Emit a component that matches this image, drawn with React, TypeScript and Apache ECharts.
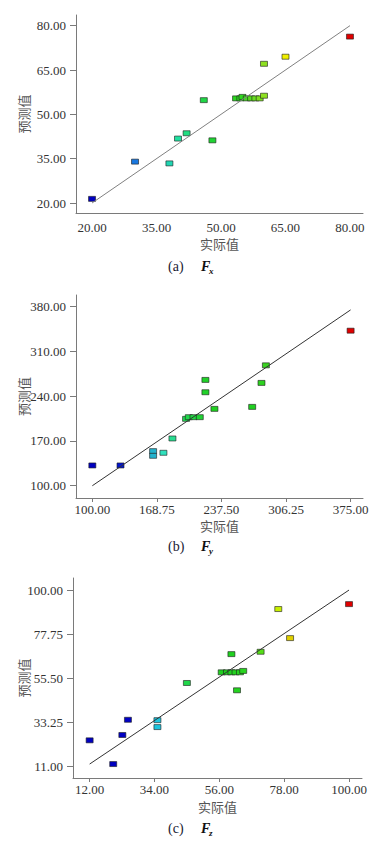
import React, { useEffect, useRef } from "react";
import * as echarts from "echarts";

// Panel (a) Fx
const fxActual = [20, 30, 38, 40, 42, 46, 48, 53.5, 54.5, 55, 56, 57, 58, 59, 60, 60, 65, 80];
const fxPredicted = [21.4, 34.0, 33.4, 41.8, 43.6, 54.8, 41.2, 55.4, 55.4, 55.9, 55.4, 55.4, 55.4, 55.4, 56.3, 67.1, 69.5, 76.3];
const fxXTicks = [20, 35, 50, 65, 80];
const fxYTicks = [20, 35, 50, 65, 80];

// Panel (b) Fy
const fyActual = [100, 130, 164.7, 164.7, 175.7, 185.3, 199.8, 202.7, 207.7, 214.4, 220.4, 220.4, 230, 270.2, 280.1, 284.8, 375];
const fyPredicted = [131.7, 131.7, 154.1, 146.8, 151.5, 173.9, 204.6, 207.2, 207.2, 207.2, 265.5, 246.2, 220.2, 223.3, 260.8, 288.3, 342.5];
const fyXTicks = [100, 168.75, 237.5, 306.25, 375];
const fyYTicks = [100, 170, 240, 310, 380];

// Panel (c) Fz
const fzActual = [12, 20, 23.1, 25, 35, 35, 45, 56.8, 58.6, 60.1, 60.1, 61.5, 63, 64.1, 62, 70, 76, 80, 100];
const fzPredicted = [24.0, 12.0, 26.7, 34.4, 34.2, 30.7, 53.0, 58.4, 58.4, 67.6, 58.4, 58.4, 58.4, 59.1, 49.3, 68.8, 90.4, 75.7, 92.9];
const fzXTicks = [12, 34, 56, 78, 100];
const fzYTicks = [11, 33.25, 55.5, 77.75, 100];

const xTitle = "实际值";
const yTitle = "预测值";

const SERIF = "Liberation Serif";
const CJK = "Noto Sans CJK SC";

type Panel = {
  actual: number[];
  predicted: number[];
  xTicks: number[];
  yTicks: number[];
  grid: { left: number; top: number; width: number; height: number };
  xRange: [number, number];
  yRange: [number, number];
  colors: string[];
  lineColor: string;
  showXTick: boolean;
  xLabelMargin: number;
  xNameGap: number;
  yNameGap: number;
  label: string;
  sub: string;
  captionY: number;
};

const panels: Panel[] = [
  {
    actual: fxActual,
    predicted: fxPredicted,
    xTicks: fxXTicks,
    yTicks: fxYTicks,
    grid: { left: 76, top: 15, width: 287, height: 198 },
    xRange: [16.27, 83.03],
    yRange: [16.62, 83.61],
    colors: ["#0000c0", "#0a3cd8", "#1a78e0", "#20c8d0", "#20e0a0", "#20d850", "#20d020", "#30d820", "#8ee020", "#f0f000", "#ffb000", "#ff6000", "#e00000"],
    lineColor: "#808080",
    showXTick: false,
    xLabelMargin: 8,
    xNameGap: 24,
    yNameGap: 46,
    label: "(a)",
    sub: "x",
    captionY: 267,
  },
  {
    actual: fyActual,
    predicted: fyPredicted,
    xTicks: fyXTicks,
    yTicks: fyYTicks,
    grid: { left: 76, top: 295, width: 287, height: 203 },
    xRange: [82.6, 388.2],
    yRange: [80.8, 398.3],
    colors: ["#0000c0", "#0000c8", "#1070e0", "#30e0c0", "#20d850", "#20d020", "#20d020", "#20d020", "#60d820", "#d0e000", "#ff8000", "#e00000"],
    lineColor: "#333333",
    showXTick: true,
    xLabelMargin: 5,
    xNameGap: 21,
    yNameGap: 46,
    label: "(b)",
    sub: "y",
    captionY: 547,
  },
  {
    actual: fzActual,
    predicted: fzPredicted,
    xTicks: fzXTicks,
    yTicks: fzYTicks,
    grid: { left: 73, top: 578, width: 289, height: 200 },
    xRange: [6.36, 104.4],
    yRange: [4.95, 106.1],
    colors: ["#0000c0", "#0000c0", "#0000c8", "#20e0e0", "#20d850", "#20d020", "#20d020", "#30d820", "#c8f000", "#f8b000", "#ff4000", "#e00000"],
    lineColor: "#333333",
    showXTick: true,
    xLabelMargin: 5,
    xNameGap: 22,
    yNameGap: 43,
    label: "(c)",
    sub: "z",
    captionY: 829,
  },
];

function buildOption() {
  const grid: any[] = [];
  const xAxis: any[] = [];
  const yAxis: any[] = [];
  const series: any[] = [];
  const visualMap: any[] = [];
  const graphic: any[] = [];

  panels.forEach((p, i) => {
    grid.push({ ...p.grid, containLabel: false });
    const fmt = (v: number) => Number(v).toFixed(2);
    xAxis.push({
      type: "value",
      gridIndex: i,
      min: p.xRange[0],
      max: p.xRange[1],
      name: xTitle,
      nameLocation: "middle",
      nameGap: p.xNameGap,
      nameMoveOverlap: false,
      nameTextStyle: { fontFamily: CJK, fontSize: 13, color: "#555" },
      axisLine: { show: true, onZero: false, lineStyle: { color: "#7a7a7a", width: 1 } },
      axisTick: { show: p.showXTick, length: 4, inside: false, customValues: p.xTicks, lineStyle: { color: "#7a7a7a" } },
      axisLabel: { customValues: p.xTicks, formatter: fmt, fontFamily: SERIF, fontSize: 13, color: "#333", margin: p.xLabelMargin },
      splitLine: { show: false },
    });
    yAxis.push({
      type: "value",
      gridIndex: i,
      min: p.yRange[0],
      max: p.yRange[1],
      name: yTitle,
      nameLocation: "middle",
      nameGap: p.yNameGap,
      nameMoveOverlap: false,
      nameTextStyle: { fontFamily: CJK, fontSize: 13, color: "#555" },
      axisLine: { show: true, onZero: false, lineStyle: { color: "#7a7a7a", width: 1 } },
      axisTick: { show: true, length: 6, inside: false, customValues: p.yTicks, lineStyle: { color: "#7a7a7a" } },
      axisLabel: { customValues: p.yTicks, formatter: fmt, fontFamily: SERIF, fontSize: 13, color: "#333", margin: 10 },
      splitLine: { show: false },
    });
    const sIdx = series.length;
    series.push({
      type: "scatter",
      xAxisIndex: i,
      yAxisIndex: i,
      symbol: "rect",
      symbolSize: [7, 5],
      z: 2,
      itemStyle: { borderColor: "rgba(30,30,30,0.75)", borderWidth: 0.8, opacity: 1 },
      data: p.actual.map((a, k) => [a, p.predicted[k]]),
    });
    const lineLo = p.xTicks[0];
    const lineHi = p.xTicks[p.xTicks.length - 1];
    series.push({
      type: "line",
      xAxisIndex: i,
      yAxisIndex: i,
      symbol: "none",
      z: 3,
      silent: true,
      lineStyle: { color: p.lineColor, width: 1 },
      data: [
        [lineLo, lineLo],
        [lineHi, lineHi],
      ],
    });
    visualMap.push({
      type: "continuous",
      show: false,
      seriesIndex: sIdx,
      dimension: 0,
      min: p.xTicks[0],
      max: p.xTicks[p.xTicks.length - 1],
      inRange: { color: p.colors },
    });
    graphic.push(
      {
        type: "text",
        left: 168,
        top: p.captionY - 8,
        style: { text: p.label, font: `14px "${SERIF}"`, fill: "#1a1a33" },
      },
      {
        type: "text",
        left: 201,
        top: p.captionY - 8,
        style: { text: "F", font: `italic bold 14px "${SERIF}"`, fill: "#111" },
      },
      {
        type: "text",
        left: 209,
        top: p.captionY - 1,
        style: { text: p.sub, font: `italic bold 9px "${SERIF}"`, fill: "#111" },
      }
    );
  });

  return {
    animation: false,
    backgroundColor: "#ffffff",
    grid,
    xAxis,
    yAxis,
    series,
    visualMap,
    graphic,
  };
}

export default function App() {
  const ref = useRef<HTMLDivElement>(null);
  useEffect(() => {
    if (!ref.current) return;
    const chart = echarts.init(ref.current, undefined, { renderer: "svg" });
    chart.setOption(buildOption() as any);
    return () => chart.dispose();
  }, []);
  return (
    <div
      ref={ref}
      style={{ position: "absolute", left: 0, top: 0, width: 388, height: 845, background: "#fff" }}
    />
  );
}
